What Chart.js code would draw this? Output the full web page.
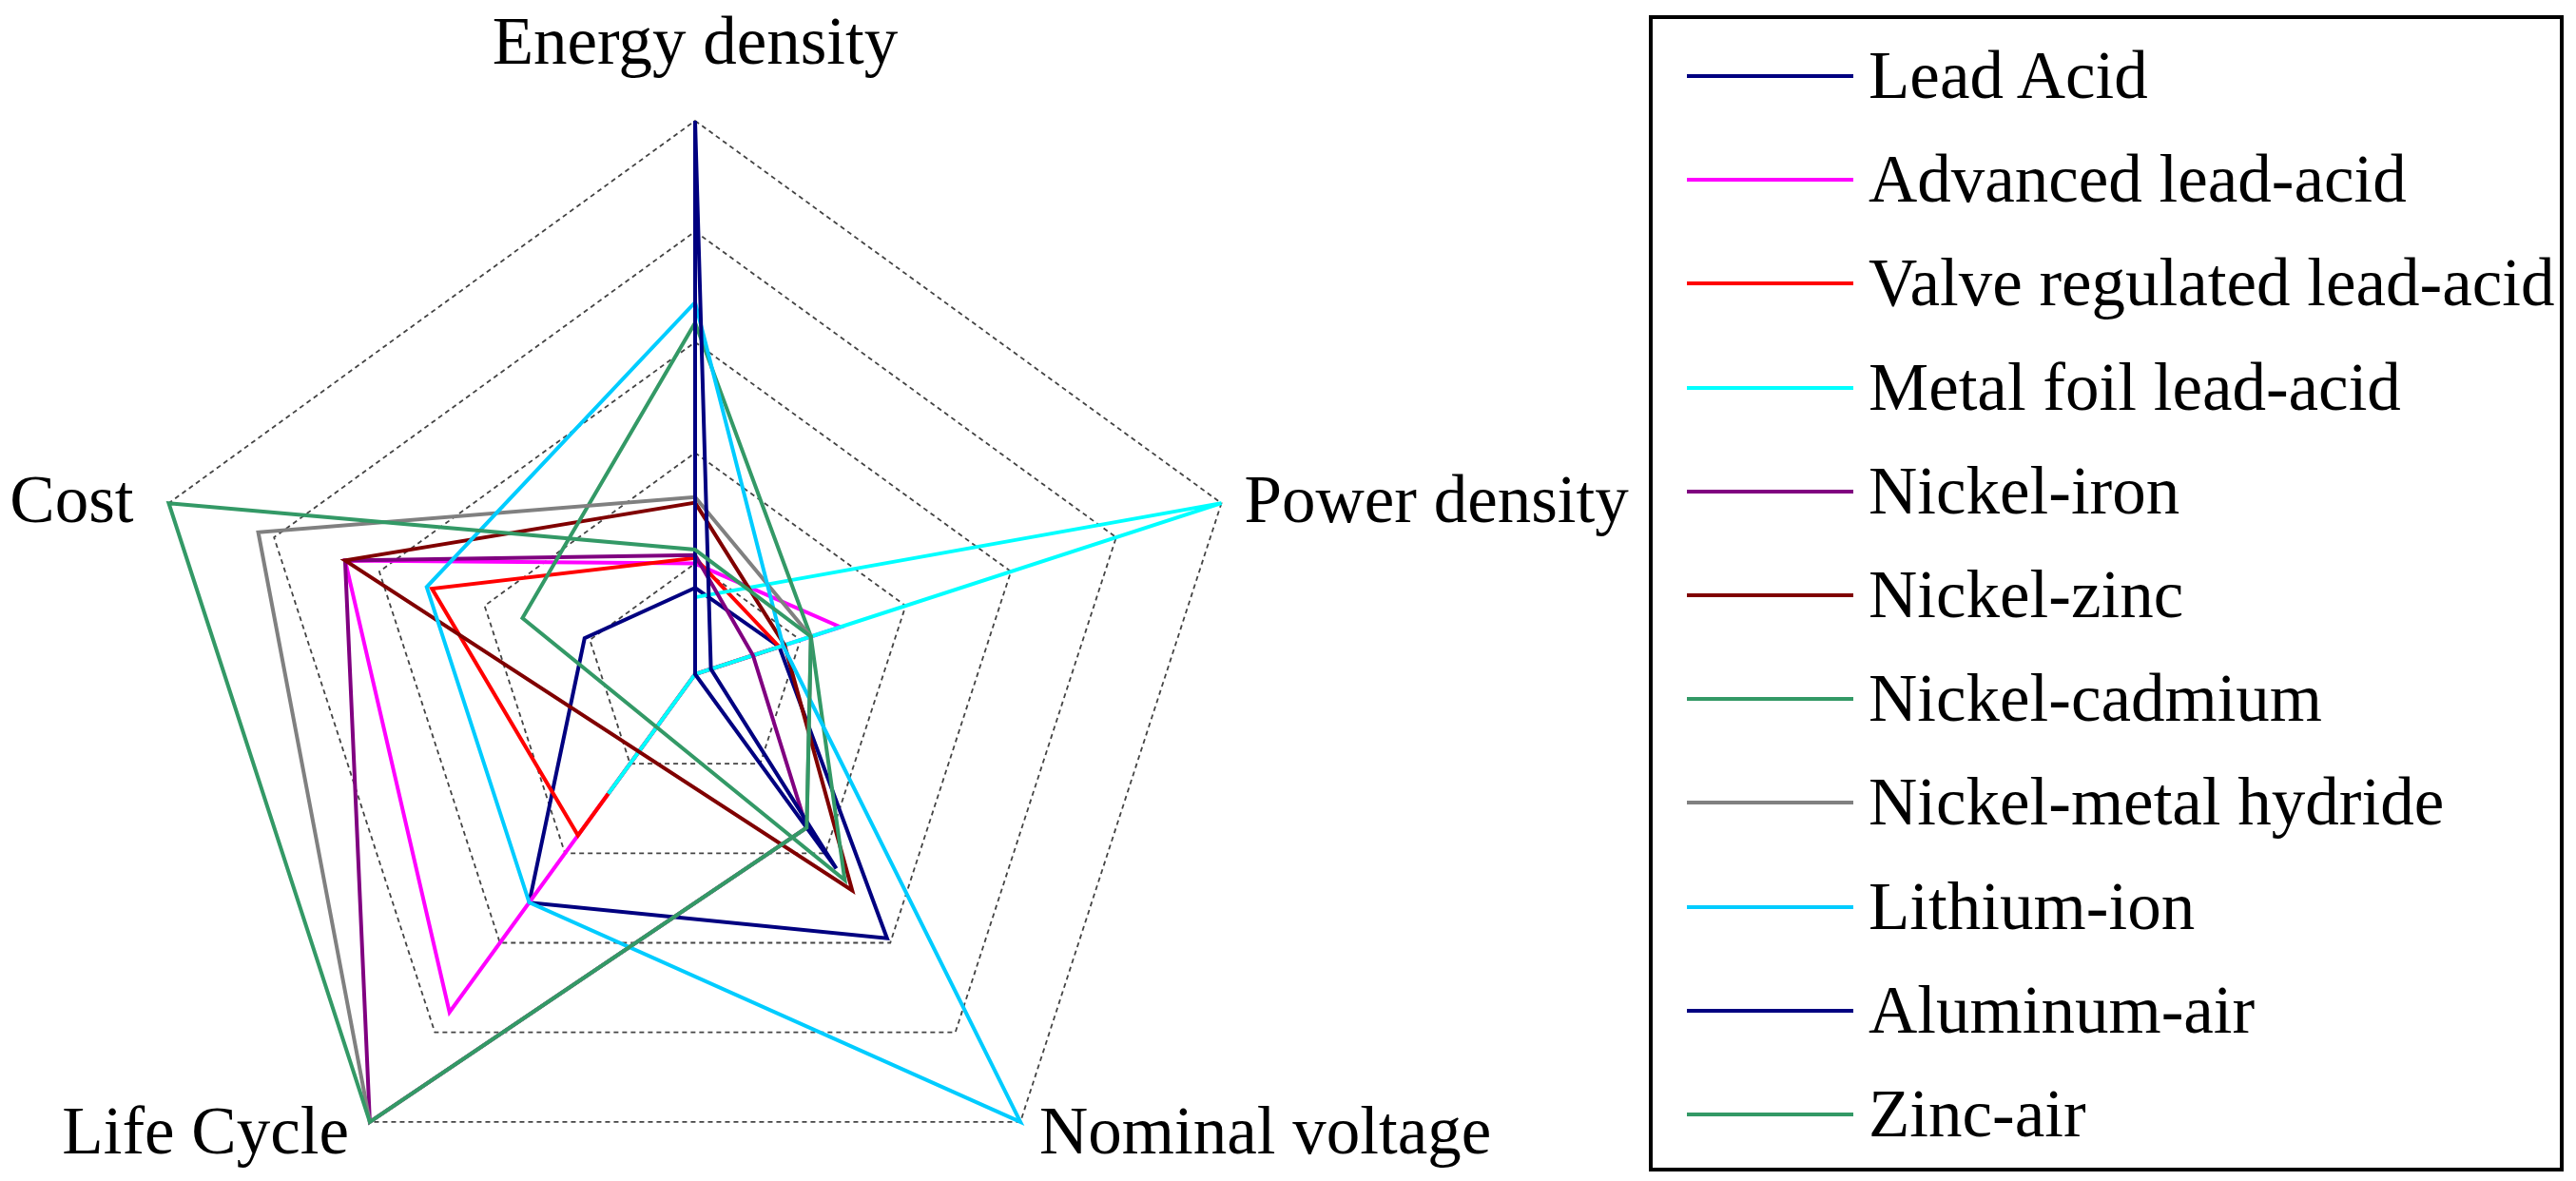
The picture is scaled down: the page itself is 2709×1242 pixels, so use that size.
<!DOCTYPE html>
<html>
<head>
<meta charset="utf-8">
<script src="https://cdn.jsdelivr.net/npm/chart.js@4.4.1/dist/chart.umd.min.js"></script>
<style>
  html, body { margin: 0; padding: 0; background: #ffffff; }
  body { width: 2709px; height: 1242px; overflow: hidden; position: relative; }
  #chartWrap { position: absolute; left: 0; top: 0; width: 1800px; height: 1300px; }
  #legend { position: absolute; left: 1734px; top: 16px; width: 962px; height: 1216px;
            box-sizing: border-box; border: 4px solid #000; background: transparent; }
  .row { position: absolute; left: 0; height: 0; }
  .swatch { position: absolute; left: 36px; width: 175px; height: 4px; }
  .label { position: absolute; left: 227px; white-space: nowrap; font-family: "Liberation Serif", "Times New Roman", serif;
           font-size: 71px; line-height: 71px; color: #000; }
</style>
</head>
<body>
<div id="chartWrap"><canvas id="c" width="1800" height="1300"></canvas></div>
<div id="legend"></div>
<script>
// ---- data ----
const axisLabels = ['Energy density', 'Power density', 'Nominal voltage', 'Life Cycle', 'Cost'];
const seriesNames = ['Lead Acid', 'Advanced lead-acid', 'Valve regulated lead-acid', 'Metal foil lead-acid',
  'Nickel-iron', 'Nickel-zinc', 'Nickel-cadmium', 'Nickel-metal hydride', 'Lithium-ion', 'Aluminum-air', 'Zinc-air'];
const seriesColors = ['#000080', '#FF00FF', '#FF0000', '#00FFFF', '#800080', '#800000',
  '#339966', '#808080', '#00CCFF', '#000080', '#339966'];
// values in axis order: Energy density, Power density, Nominal voltage, Life Cycle, Cost
const leadAcid           = [0.156, 0.16, 0.59, 0.51, 0.21];
const advancedLeadAcid   = [0.20, 0.276, 0, 0.755, 0.665];
const valveRegulated     = [0.21, 0.16, 0, 0.36, 0.50];
const metalFoilLeadAcid  = [0.139, 1.0, 0, 0.267, 0];
const nickelIron         = [0.215, 0.11, 0.343, 1.0, 0.665];
const nickelZinc         = [0.31, 0.17, 0.483, null, 0.665];
const nickelCadmium      = [0.635, 0.22, 0.46, null, 0.328];
const nickelMetalHydride = [0.32, 0.22, 0.343, 1.0, 0.83];
const lithiumIon         = [0.672, 0.167, 1.0, 0.51, 0.51];
const aluminumAir        = [1.0, 0.03, 0.434, 0, 0];
const zincAir            = [0.225, 0.22, 0.343, 1.0, 1.0];
const seriesValues = [leadAcid, advancedLeadAcid, valveRegulated, metalFoilLeadAcid, nickelIron,
  nickelZinc, nickelCadmium, nickelMetalHydride, lithiumIon, aluminumAir, zincAir];
const gridTicks = [0, 0.2, 0.4, 0.6, 0.8, 1.0];

// ---- chart ----
const labelFont = '71px "Liberation Serif", "Times New Roman", serif';
const axisLabelPlugin = {
  id: 'axisLabelPlugin',
  afterDraw(chart) {
    const s = chart.scales.r;
    const ctx = chart.ctx;
    ctx.save();
    ctx.font = labelFont;
    ctx.fillStyle = '#000';
    ctx.textBaseline = 'alphabetic';
    const place = [
      {align: 'center', dx: 0, dy: -60},
      {align: 'left', dx: 24, dy: 20},
      {align: 'left', dx: 20, dy: 33},
      {align: 'right', dx: -22, dy: 33},
      {align: 'right', dx: -37, dy: 20}
    ];
    axisLabels.forEach((lab, i) => {
      const p = s.getPointPosition(i, s.drawingArea);
      ctx.textAlign = place[i].align;
      ctx.fillText(lab, p.x + place[i].dx, p.y + place[i].dy);
    });
    ctx.restore();
  }
};

const n = seriesNames.length;
new Chart(document.getElementById('c'), {
  type: 'radar',
  data: {
    labels: axisLabels,
    datasets: seriesNames.map((name, i) => ({
      label: name,
      data: seriesValues[i],
      borderColor: seriesColors[i],
      backgroundColor: seriesColors[i],
      borderWidth: 4,
      fill: false,
      pointRadius: 0,
      pointHoverRadius: 0,
      tension: 0,
      spanGaps: true,
      order: n - i
    }))
  },
  options: {
    responsive: false,
    animation: false,
    devicePixelRatio: 1,
    layout: { padding: { left: 149, top: 127, right: 1800 - 149 - 1164, bottom: 1300 - 127 - 1164 } },
    plugins: { legend: { display: false }, tooltip: { enabled: false } },
    elements: { line: { borderJoinStyle: 'miter', borderCapStyle: 'butt' } },
    scales: {
      r: {
        min: gridTicks[0],
        max: gridTicks[gridTicks.length - 1],
        ticks: { display: false, stepSize: gridTicks[1] - gridTicks[0] },
        angleLines: { display: false },
        grid: { color: '#444444', lineWidth: 1.8, borderDash: [5, 4] },
        border: { dash: [5, 4] },
        pointLabels: { display: false }
      }
    }
  },
  plugins: [axisLabelPlugin]
});

// ---- legend (HTML text) ----
const legend = document.getElementById('legend');
seriesNames.forEach((name, i) => {
  const y = 60 + 109.2 * i; // line centre relative to legend box top (inside border)
  const row = document.createElement('div');
  row.className = 'row';
  row.style.top = y + 'px';
  const sw = document.createElement('div');
  sw.className = 'swatch';
  sw.style.background = seriesColors[i];
  sw.style.top = '-2px';
  const lb = document.createElement('div');
  lb.className = 'label';
  lb.textContent = name;
  lb.style.top = '-36px';
  row.appendChild(sw);
  row.appendChild(lb);
  legend.appendChild(row);
});
</script>
</body>
</html>
